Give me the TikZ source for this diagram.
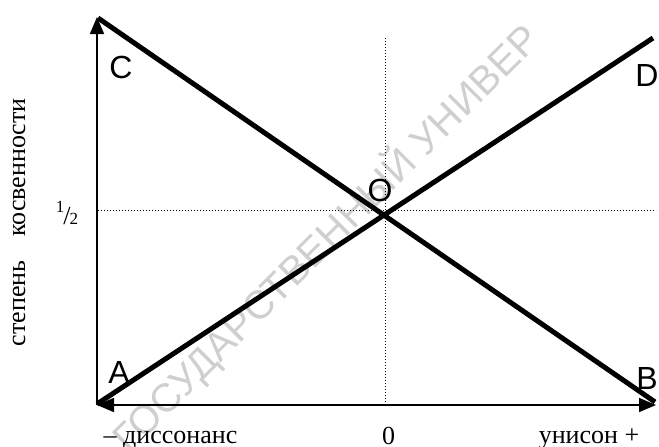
\documentclass[tikz,border=0pt]{standalone}
\usepackage{fontspec}
\setmainfont{Liberation Serif}
\newfontfamily\arialfont{Liberation Sans}
\usetikzlibrary{arrows.meta}
\begin{document}
\begin{tikzpicture}[x=1pt,y=-1pt,
  >={Triangle[length=17pt,width=14pt]},
  axisline/.style={line width=1.6pt},
  thickline/.style={line width=5pt},
  guide/.style={line width=1pt, dash pattern=on 1pt off 2pt},
  ptlabel/.style={font=\arialfont\fontsize{32}{32}\selectfont, inner sep=0pt, anchor=base},
  axlabel/.style={font=\fontsize{26}{26}\selectfont, inner sep=0pt, anchor=base},
  watermark/.style={font=\arialfont\fontsize{40}{40}\selectfont, text=black!19, inner sep=0pt}
]
\useasboundingbox (0,0) rectangle (659,447);
% watermark
\node[watermark, rotate=45] (wm) at (326,238) {ГОСУДАРСТВЕННЫЙ УНИВЕР};
% coordinates
\coordinate (origin) at (97,405);
\coordinate (ytop) at (97,17);
\coordinate (xright) at (656,405);
\coordinate (cstart) at (98,18);
\coordinate (bend) at (655,402);
\coordinate (astart) at (97,404);
\coordinate (dend) at (653,38);
\coordinate (vtop) at (385,38);
\coordinate (vbot) at (385,405);
\coordinate (hleft) at (98,210);
\coordinate (hright) at (656,210);
% guides
\draw[guide] (vtop) -- (vbot);
\draw[guide] (hleft) -- (hright);
% axes
\draw[axisline, ->] (origin) -- (ytop);
\draw[axisline, <->] (origin) -- (xright);
% thick lines
\draw[thickline] (cstart) -- (bend);
\draw[thickline] (astart) -- (dend);
% point labels
\node[ptlabel] (lc) at (121,78) {C};
\node[ptlabel] (la) at (119,383) {A};
\node[ptlabel] (lo) at (380,201) {O};
\node[ptlabel] (lb) at (647,389) {B};
\node[ptlabel] (ld) at (647,86) {D};
% axis labels
\node[axlabel, rotate=90] (ylab1) at (25,303.5) {степень};
\node[axlabel, rotate=90] (ylab2) at (25,167.5) {косвенности};
\node[axlabel] (dis) at (170.5,443) {– диссонанс};
\node[axlabel] (zero) at (388.5,444) {0};
\node[axlabel] (uni) at (589,443) {унисон +};
\node[axlabel] (half) at (67,224) {\raisebox{12pt}{\fontsize{17}{17}\selectfont 1}\kern-1pt/\kern-1pt{\fontsize{17}{17}\selectfont 2}};
\end{tikzpicture}
\end{document}
